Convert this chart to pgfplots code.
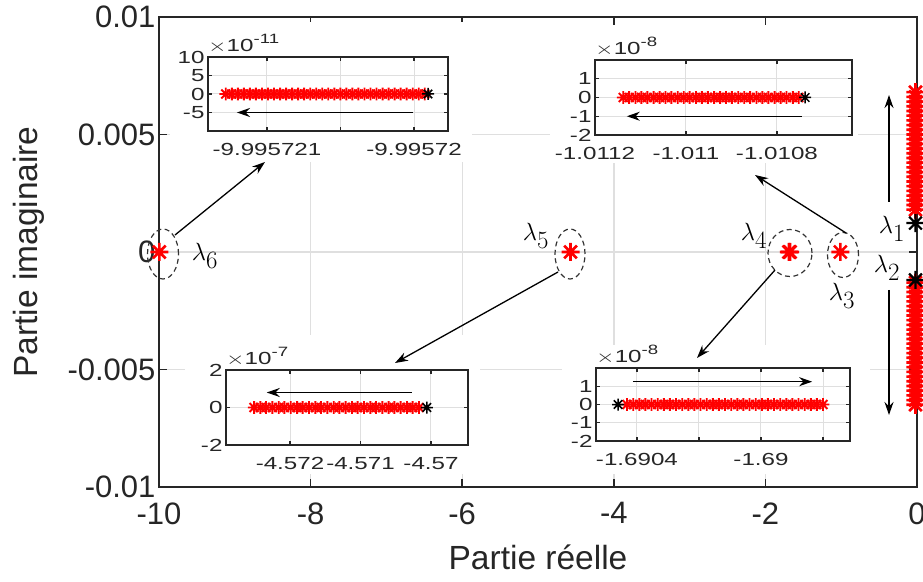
\documentclass[border=0pt]{standalone}
\usepackage{fontspec}
\setmainfont{Liberation Sans}
\usepackage{graphicx}
\usepackage{pgfplots}
\pgfplotsset{compat=1.18}
\usetikzlibrary{arrows.meta}

\newcommand{\mainfont}{\fontsize{31}{37}\selectfont}
\newcommand{\labfont}{\fontsize{33.5}{40}\selectfont}
\newcommand{\lamfont}{\fontsize{36}{42}\selectfont}
\newcommand{\insetfont}{\fontsize{17.5}{21}\selectfont}
\newcommand{\sx}[1]{\scalebox{1.38}[1]{#1}}
\newcommand{\expo}[1]{\sx{$\times$10\raisebox{0.45em}{\fontsize{13.5}{16}\selectfont #1}}}

% MATLAB-like asterisk (+ and x)
\pgfdeclareplotmark{mstar}{%
  \pgfpathmoveto{\pgfqpoint{0pt}{\pgfplotmarksize}}%
  \pgfpathlineto{\pgfqpoint{0pt}{-\pgfplotmarksize}}%
  \pgfpathmoveto{\pgfqpoint{\pgfplotmarksize}{0pt}}%
  \pgfpathlineto{\pgfqpoint{-\pgfplotmarksize}{0pt}}%
  \pgfpathmoveto{\pgfqpoint{0.7071\pgfplotmarksize}{0.7071\pgfplotmarksize}}%
  \pgfpathlineto{\pgfqpoint{-0.7071\pgfplotmarksize}{-0.7071\pgfplotmarksize}}%
  \pgfpathmoveto{\pgfqpoint{-0.7071\pgfplotmarksize}{0.7071\pgfplotmarksize}}%
  \pgfpathlineto{\pgfqpoint{0.7071\pgfplotmarksize}{-0.7071\pgfplotmarksize}}%
  \pgfusepathqstroke}

\definecolor{gridc}{RGB}{223,223,223}
\definecolor{axc}{RGB}{38,38,38}

\tikzset{arr/.style={-{Stealth[length=13pt,width=9pt]}, line width=1.3pt, black}}

\pgfplotsset{
  inset/.style={
    scale only axis, anchor=south west, enlargelimits=false, clip=false,
    axis background/.style={fill=white},
    axis line style={line width=2.2pt, axc},
    grid=major, grid style={gridc, line width=1pt},
    tick style={axc, line width=1.2pt}, major tick length=4pt,
    tick align=inside,
    ticklabel style={font=\insetfont, text=axc},
    /pgf/number format/assume math mode=true,
    xticklabel style={yshift=-9pt},
    scaled ticks=false,
  },
  redst/.style={only marks, mark=mstar, red, mark size=6.3pt, mark options={line width=1.9pt}},
  blkst/.style={only marks, mark=mstar, black, mark size=6pt, mark options={line width=1.5pt}},
}

\begin{document}
\begin{tikzpicture}
\path[use as bounding box] (-159pt,-94pt) rectangle (764pt,487pt);

% ---------------- main axis ----------------
\begin{axis}[
  name=main, at={(0pt,0pt)}, anchor=south west,
  scale only axis, width=758pt, height=470pt,
  xmin=-10, xmax=0, ymin=-0.01, ymax=0.01,
  enlargelimits=false, scaled ticks=false,
  xtick={-10,-8,-6,-4,-2,0}, xticklabels={-10,-8,-6,-4,-2,0},
  ytick={-0.01,-0.005,0,0.005,0.01}, yticklabels={-0.01,-0.005,0,0.005,0.01},
  /pgf/number format/assume math mode=true,
  axis line style={line width=2pt, axc},
  tick style={axc, line width=1.5pt}, major tick length=8pt, tick align=inside,
  grid=major, grid style={gridc, line width=1.4pt},
  ticklabel style={font=\mainfont, text=axc},
  xticklabel style={yshift=-12pt},
  label style={font=\labfont, text=axc},
  xlabel={Partie réelle}, ylabel={Partie imaginaire},
  xlabel shift=13pt, ylabel shift=16pt,
]
% eigenvalues lambda_3 ... lambda_6
\addplot[only marks, mark=mstar, red, mark size=9pt, mark options={line width=2.6pt}] coordinates {
 (-9.9957,0) (-4.571,0) (-1.69,0) (-1.675,0) (-1.011,0)};
% lambda_1 branch
\addplot[only marks, mark=mstar, red, mark size=9pt, mark options={line width=2.6pt}] coordinates {
 (-0.02,0.0018) (-0.02,0.0020) (-0.02,0.0022) (-0.02,0.0024) (-0.02,0.0026) (-0.02,0.0028)
 (-0.02,0.0030) (-0.02,0.0032) (-0.02,0.0034) (-0.02,0.0036) (-0.02,0.0038) (-0.02,0.0040)
 (-0.02,0.0042) (-0.02,0.0044) (-0.02,0.0046) (-0.02,0.0048) (-0.02,0.0050) (-0.02,0.0052)
 (-0.02,0.0054) (-0.02,0.0056) (-0.02,0.0058) (-0.02,0.0060) (-0.02,0.0062) (-0.02,0.0064)
 (-0.02,0.0066) (-0.02,0.0068)};
% lambda_2 branch
\addplot[only marks, mark=mstar, red, mark size=9pt, mark options={line width=2.6pt}] coordinates {
 (-0.02,-0.0013) (-0.02,-0.0015) (-0.02,-0.0017) (-0.02,-0.0019) (-0.02,-0.0021) (-0.02,-0.0023)
 (-0.02,-0.0025) (-0.02,-0.0027) (-0.02,-0.0029) (-0.02,-0.0031) (-0.02,-0.0033) (-0.02,-0.0035)
 (-0.02,-0.0037) (-0.02,-0.0039) (-0.02,-0.0041) (-0.02,-0.0043) (-0.02,-0.0045) (-0.02,-0.0047)
 (-0.02,-0.0049) (-0.02,-0.0051) (-0.02,-0.0053) (-0.02,-0.0055) (-0.02,-0.0057) (-0.02,-0.0059)
 (-0.02,-0.0061) (-0.02,-0.0063) (-0.02,-0.0065)};
% initial values lambda_1, lambda_2
\addplot[only marks, mark=mstar, black, mark size=9pt, mark options={line width=2.2pt}] coordinates {
 (-0.02,0.00123) (-0.02,-0.00119)};
\end{axis}

% white backgrounds of the insets
\fill[white] (11pt,325pt) rectangle (313pt,465pt);
\fill[white] (391pt,324pt) rectangle (699pt,462pt);
\fill[white] (26pt,13pt) rectangle (321pt,152pt);
\fill[white] (403pt,13pt) rectangle (711pt,142pt);

% ---------------- inset lambda_6 : x = -9.995721 + u*1e-7 ----------------
\begin{axis}[inset, at={(49pt,356pt)}, width=240pt, height=74pt,
  xmin=-4.01, xmax=12.31, ymin=-10, ymax=10,
  xtick={0,5,10}, xticklabels={\sx{-9.995721},,\sx{-9.99572}},
  ytick={-10,-5,0,5,10}, yticklabels={,\sx{-5},\sx{0},\sx{5},\sx{10}}]
\addplot[redst] coordinates {
 (-2.80,0) (-2.39,0) (-1.98,0) (-1.57,0) (-1.16,0) (-0.75,0) (-0.34,0) (0.07,0) (0.48,0)
 (0.89,0) (1.30,0) (1.71,0) (2.12,0) (2.53,0) (2.94,0) (3.35,0) (3.76,0) (4.17,0) (4.58,0)
 (4.99,0) (5.40,0) (5.81,0) (6.22,0) (6.63,0) (7.04,0) (7.45,0) (7.86,0) (8.27,0) (8.68,0)
 (9.09,0) (9.50,0) (9.91,0) (10.32,0) (10.73,0)};
\addplot[blkst] coordinates {(10.95,0)};
\draw[arr] (axis cs:9.93,-5) -- (axis cs:-2.04,-5);
\node[anchor=south west, inner sep=0pt, font=\insetfont, text=axc, yshift=4pt] at (rel axis cs:0,1) {\expo{-11}};
\end{axis}

% ---------------- inset lambda_3 : x = -1.0112 + u*1e-4 ----------------
\begin{axis}[inset, at={(436pt,352pt)}, width=257pt, height=75pt,
  xmin=0, xmax=5.65, ymin=-2, ymax=2,
  xtick={0,2,4}, xticklabels={\sx{-1.0112},\sx{-1.011},\sx{-1.0108}},
  ytick={-2,-1,0,1}, yticklabels={\sx{-2},\sx{-1},\sx{0},\sx{1}}]
\addplot[redst] coordinates {
 (0.62,0) (0.75,0) (0.89,0) (1.02,0) (1.15,0) (1.29,0) (1.42,0) (1.55,0) (1.68,0) (1.82,0)
 (1.95,0) (2.08,0) (2.22,0) (2.35,0) (2.48,0) (2.62,0) (2.75,0) (2.88,0) (3.01,0) (3.15,0)
 (3.28,0) (3.41,0) (3.55,0) (3.68,0) (3.81,0) (3.95,0) (4.08,0) (4.21,0) (4.35,0) (4.48,0)};
\addplot[blkst] coordinates {(4.62,0)};
\draw[arr] (axis cs:4.55,-1) -- (axis cs:0.70,-1);
\node[anchor=south west, inner sep=0pt, font=\insetfont, text=axc, yshift=4pt] at (rel axis cs:0,1) {\expo{-8}};
\end{axis}

% ---------------- inset lambda_5 : x = -4.573 + u*1e-3 ----------------
\begin{axis}[inset, at={(67pt,42pt)}, width=242pt, height=75pt,
  xmin=0.092, xmax=3.525, ymin=-2, ymax=2,
  xtick={1,2,3}, xticklabels={\sx{-4.572},\sx{-4.571},\sx{-4.57}},
  ytick={-2,0,2}, yticklabels={\sx{-2},\sx{0},\sx{2}}]
\addplot[redst] coordinates {
 (0.49,0) (0.58,0) (0.66,0) (0.75,0) (0.84,0) (0.92,0) (1.01,0) (1.10,0) (1.18,0) (1.27,0)
 (1.36,0) (1.44,0) (1.53,0) (1.62,0) (1.70,0) (1.79,0) (1.88,0) (1.96,0) (2.05,0) (2.14,0)
 (2.22,0) (2.31,0) (2.40,0) (2.48,0) (2.57,0) (2.66,0) (2.74,0) (2.83,0)};
\addplot[blkst] coordinates {(2.94,0)};
\draw[arr] (axis cs:2.73,0.8) -- (axis cs:0.67,0.8);
\node[anchor=south west, inner sep=0pt, font=\insetfont, text=axc, yshift=4pt] at (rel axis cs:0,1) {\expo{-7}};
\end{axis}

% ---------------- inset lambda_4 : x = -1.6906 + u*1e-4 ----------------
\begin{axis}[inset, at={(437pt,46pt)}, width=254pt, height=73pt,
  xmin=0.68, xmax=8.87, ymin=-2, ymax=2,
  xtick={2,4,6,8}, xticklabels={\sx{-1.6904},,\sx{-1.69},},
  ytick={-2,-1,0,1}, yticklabels={\sx{-2},\sx{-1},\sx{0},\sx{1}}]
\addplot[redst] coordinates {
 (1.68,0) (1.88,0) (2.08,0) (2.27,0) (2.47,0) (2.67,0) (2.87,0) (3.06,0) (3.26,0) (3.46,0)
 (3.66,0) (3.85,0) (4.05,0) (4.25,0) (4.45,0) (4.64,0) (4.84,0) (5.04,0) (5.24,0) (5.43,0)
 (5.63,0) (5.83,0) (6.03,0) (6.22,0) (6.42,0) (6.62,0) (6.82,0) (7.01,0) (7.21,0) (7.41,0)
 (7.61,0) (7.80,0) (8.00,0)};
\addplot[blkst] coordinates {(1.39,0)};
\draw[arr] (axis cs:1.87,1.25) -- (axis cs:7.65,1.25);
\node[anchor=south west, inner sep=0pt, font=\insetfont, text=axc, yshift=4pt] at (rel axis cs:0,1) {\expo{-8}};
\end{axis}

% ---------------- annotations ----------------
\begin{scope}[line width=1.2pt, dash pattern=on 5pt off 3.5pt, black!80]
\draw (4pt,233pt) ellipse [x radius=15.5pt, y radius=25pt];
\draw (411pt,233pt) ellipse [x radius=15pt, y radius=25pt];
\draw (631pt,234pt) ellipse [x radius=22pt, y radius=23.5pt];
\draw (684pt,232pt) ellipse [x radius=15.5pt, y radius=22.5pt];
\end{scope}
\draw[arr] (16pt,252pt) -- (106pt,325pt);
\draw[arr] (399pt,215pt) -- (236pt,124pt);
\draw[arr] (687pt,254pt) -- (596pt,312pt);
\draw[arr] (616pt,217pt) -- (538pt,129pt);
\draw[arr] (730pt,285pt) -- (730pt,392pt);
\draw[arr] (730pt,197pt) -- (730pt,72pt);

\node[font=\lamfont] at (46pt,231pt) {$\lambda_6$};
\node[font=\lamfont] at (377pt,251pt) {$\lambda_5$};
\node[font=\lamfont] at (595pt,251pt) {$\lambda_4$};
\node[font=\lamfont] at (683pt,191pt) {$\lambda_3$};
\node[font=\lamfont] at (733pt,258pt) {$\lambda_1$};
\node[font=\lamfont] at (728pt,219pt) {$\lambda_2$};
\end{tikzpicture}
\end{document}
